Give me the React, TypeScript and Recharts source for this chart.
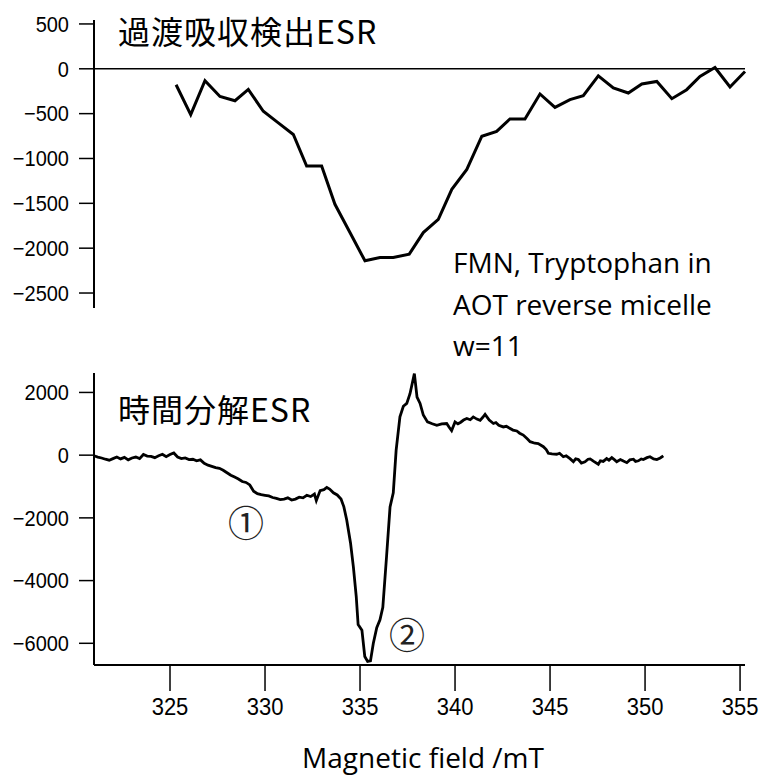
import { LineChart, Line, XAxis, YAxis, ReferenceLine } from 'recharts'

// 過渡吸収検出ESR (top panel)
const taField = [
  325.32, 326.09, 326.84, 327.63, 328.42, 329.12, 329.91, 330.7, 331.49, 332.19,
  332.98, 333.68, 334.47, 335.26, 336.05, 336.75, 337.59, 338.33, 339.12, 339.83,
  340.62, 341.41, 342.19, 342.89, 343.68, 344.47, 345.26, 346.05, 346.75, 347.54,
  348.33, 349.12, 349.83, 350.62, 351.41, 352.19, 352.89, 353.68, 354.47, 355.26,
]
const taSignal = [
  -178, -511, -133, -308, -356, -230, -474, -603, -733, -1085,
  -1085, -1511, -1826, -2141, -2103, -2103, -2067, -1826, -1678, -1344,
  -1122, -752, -697, -559, -559, -281, -430, -344, -300, -78,
  -214, -270, -170, -141, -333, -233, -86, 14, -203, -30,
]

// 時間分解ESR (bottom panel)
const trField = [
  321.0, 321.2, 321.4, 321.6, 321.8, 322.0, 322.2, 322.4, 322.6, 322.8,
  323.0, 323.2, 323.4, 323.6, 323.8, 324.0, 324.2, 324.4, 324.6, 324.8,
  325.0, 325.2, 325.4, 325.6, 325.8, 326.0, 326.2, 326.4, 326.6, 326.8,
  327.0, 327.2, 327.4, 327.6, 327.8, 328.0, 328.2, 328.4, 328.6, 328.8,
  329.0, 329.2, 329.4, 329.6, 329.8, 330.0, 330.2, 330.4, 330.6, 330.8,
  331.0, 331.2, 331.4, 331.6, 331.8, 332.0, 332.2, 332.4, 332.6, 332.7,
  332.9, 333.1, 333.25, 333.4, 333.6, 333.8, 334.0, 334.15, 334.3, 334.5,
  334.65, 334.8, 334.9, 335.1, 335.25, 335.4, 335.55, 335.7, 335.88, 336.05,
  336.2, 336.4, 336.58, 336.75, 336.9, 337.1, 337.28, 337.46, 337.63, 337.86,
  338.0, 338.16, 338.33, 338.55, 338.8, 339.04, 339.3, 339.56, 339.7, 339.82,
  340.0, 340.15, 340.3, 340.45, 340.62, 340.8, 340.96, 341.15, 341.32, 341.45,
  341.58, 341.8, 342.02, 342.15, 342.3, 342.54, 342.7, 342.9, 343.05, 343.25,
  343.4, 343.59, 343.8, 343.95, 344.2, 344.38, 344.65, 344.8, 344.91, 345.1,
  345.35, 345.5, 345.7, 345.85, 346.05, 346.23, 346.35, 346.49, 346.65, 346.84,
  347.0, 347.11, 347.3, 347.54, 347.65, 347.8, 347.98, 348.1, 348.25, 348.4,
  348.51, 348.7, 348.86, 349.04, 349.2, 349.39, 349.5, 349.65, 349.8, 349.91,
  350.1, 350.26, 350.45, 350.62, 350.8, 350.96,
]
const trSignal = [
  -20, -60, -90, -130, -160, -110, -60, -120, -70, -150,
  -90, -60, -110, 20, -30, -40, -80, -20, 30, -50,
  20, 70, -60, -110, -90, -140, -130, -180, -150, -260,
  -320, -360, -400, -420, -480, -560, -640, -700, -760, -840,
  -870, -950, -1150, -1230, -1260, -1280, -1300, -1350, -1380, -1420,
  -1400, -1360, -1430, -1400, -1340, -1360, -1280, -1320, -1240, -1450,
  -1130, -1100, -1030, -1080, -1200, -1270, -1400, -1650, -2070, -2800,
  -3560, -4500, -5400, -5580, -6420, -6580, -6560, -6000, -5500, -5250,
  -4850, -3200, -1650, -1200, 150, 1220, 1560, 1650, 1960, 2600,
  1850, 1650, 1280, 1060, 1000, 950, 1000, 1010, 880, 780,
  1060, 1000, 1050, 1120, 1170, 1130, 1220, 1150, 1110, 1200,
  1300, 1120, 1010, 1040, 950, 900, 920, 850, 800, 770,
  700, 640, 520, 430, 380, 370, 270, 180, 60, 40,
  30, 60, -50, -20, -110, -210, -120, -140, -250, -210,
  -130, -120, -200, -290, -180, -200, -110, -160, -80, -150,
  -210, -140, -190, -240, -150, -130, -200, -180, -120, -140,
  -80, -50, -120, -140, -90, -20,
]

const fieldTicks = [325, 330, 335, 340, 345, 350, 355]
const taTicks = [500, 0, -500, -1000, -1500, -2000, -2500]
const trTicks = [2000, 0, -2000, -4000, -6000]

const taData = taField.map((field, i) => ({ field, signal: taSignal[i] }))
const trData = trField.map((field, i) => ({ field, signal: trSignal[i] }))

const cjk = '"Noto Sans CJK JP", sans-serif'
const latin = '"Open Sans", sans-serif'
const numFont = 'Liberation Sans, Arial, sans-serif'

// tick labels in the original are a little taller than Arial
// eslint-disable-next-line @typescript-eslint/no-explicit-any
function YTick({ x, y, payload }: any) {
  return (
    <g transform={`translate(${x},${y}) scale(1,1.1)`}>
      <text textAnchor="end" dy="0.355em" fontSize={20} fontFamily={numFont} fill="#000">
        {String(payload.value).replace('-', '\u2212')}
      </text>
    </g>
  )
}

// eslint-disable-next-line @typescript-eslint/no-explicit-any
function XTick({ x, y, payload }: any) {
  return (
    <g transform={`translate(${x},${y}) scale(1,1.1)`}>
      <text textAnchor="middle" dy="0.71em" fontSize={22} fontFamily={numFont} fill="#000">
        {payload.value}
      </text>
    </g>
  )
}

export default function App() {
  return (
    <div style={{ position: 'absolute', left: 0, top: 0, width: 759, height: 780, background: '#fff' }}>
      <div style={{ position: 'absolute', left: 0, top: 0 }}>
        <LineChart width={759} height={320} data={taData} margin={{ top: 20, right: 14, left: 0, bottom: 12 }}>
          <XAxis dataKey="field" type="number" domain={[321, 355.26]} hide />
          <YAxis
            type="number"
            domain={[-2667, 544]}
            ticks={taTicks}
            width={94}
            tick={<YTick />}
            tickSize={15}
            tickMargin={10}
            axisLine={{ stroke: '#000', strokeWidth: 2 }}
            tickLine={{ stroke: '#000', strokeWidth: 1.5 }}
          />
          <ReferenceLine y={0} stroke="#000" strokeWidth={1.5} />
          <Line
            dataKey="signal"
            type="linear"
            stroke="#000"
            strokeWidth={3}
            dot={false}
            isAnimationActive={false}
          />
        </LineChart>
      </div>
      <div style={{ position: 'absolute', left: 0, top: 330 }}>
        <LineChart width={759} height={450} data={trData} margin={{ top: 43, right: 14, left: 0, bottom: 55 }}>
          <XAxis
            dataKey="field"
            type="number"
            domain={[321, 355.26]}
            ticks={fieldTicks}
            height={60}
            tick={<XTick />}
            tickSize={26}
            tickMargin={7}
            axisLine={{ stroke: '#000', strokeWidth: 2 }}
            tickLine={{ stroke: '#000', strokeWidth: 1.5 }}
          />
          <YAxis
            type="number"
            domain={[-6692, 2620]}
            ticks={trTicks}
            width={94}
            tick={<YTick />}
            tickSize={15}
            tickMargin={10}
            axisLine={{ stroke: '#000', strokeWidth: 2 }}
            tickLine={{ stroke: '#000', strokeWidth: 1.5 }}
          />
          <Line
            dataKey="signal"
            type="linear"
            stroke="#000"
            strokeWidth={2.8}
            dot={false}
            isAnimationActive={false}
          />
        </LineChart>
      </div>
      <svg width={759} height={780} style={{ position: 'absolute', left: 0, top: 0, pointerEvents: 'none' }}>
        <text x={118} y={44} fontSize={32} fontFamily={cjk} letterSpacing={1}>過渡吸収検出ESR</text>
        <text x={118} y={422} fontSize={32} fontFamily={cjk} letterSpacing={1}>時間分解ESR</text>
        <text x={453} y={273} fontSize={28} fontFamily={latin}>FMN, Tryptophan in</text>
        <text x={453} y={315} fontSize={28} fontFamily={latin}>AOT reverse micelle</text>
        <text x={453} y={356} fontSize={28} fontFamily={latin}>w=11</text>
        <text x={246} y={521} fontSize={36} fontFamily={cjk} textAnchor="middle" dominantBaseline="central" fill="#222">①</text>
        <text x={407} y={633} fontSize={36} fontFamily={cjk} textAnchor="middle" dominantBaseline="central" fill="#222">②</text>
        <text x={423} y={768} fontSize={28} fontFamily={latin} textAnchor="middle">Magnetic field /mT</text>
      </svg>
    </div>
  )
}
